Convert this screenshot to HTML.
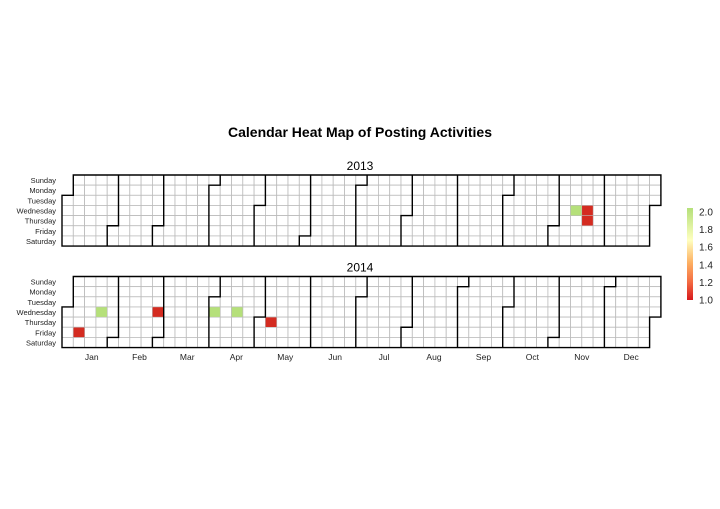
<!DOCTYPE html>
<html><head><meta charset="utf-8"><style>
body{margin:0;background:#fff;}
svg text{font-family:"Liberation Sans",sans-serif;}
</style></head><body>
<svg id="chart" width="720" height="504" viewBox="0 0 720 504" xmlns="http://www.w3.org/2000/svg">
<rect width="720" height="504" fill="#fff"/>
<text x="360" y="137" text-anchor="middle" font-size="14" font-weight="bold">Calendar Heat Map of Posting Activities</text>
<defs><linearGradient id="lg" x1="0" y1="1" x2="0" y2="0">
<stop offset="0" stop-color="#d7191c"/><stop offset="0.2" stop-color="#f46d43"/><stop offset="0.4" stop-color="#fdae61"/><stop offset="0.65" stop-color="#ffffbf"/><stop offset="1" stop-color="#b5e07a"/>
</linearGradient></defs>
<rect x="687" y="208" width="6" height="92" fill="url(#lg)"/>
<g id="legend"></g>
<g id="panels"></g>
</svg>
<script>
const years = [2013, 2014];
const activeDates = ["2013-11-13","2013-11-20","2013-11-21","2014-01-10","2014-01-22","2014-02-26","2014-04-02","2014-04-16","2014-05-08"];
const activeValues = [2,1,1,1,2,1,2,2,1];
const legendTicks = [1.0,1.2,1.4,1.6,1.8,2.0];
const dayNames = ["Sunday","Monday","Tuesday","Wednesday","Thursday","Friday","Saturday"];
const monthNames = ["Jan","Feb","Mar","Apr","May","Jun","Jul","Aug","Sep","Oct","Nov","Dec"];

const NS="http://www.w3.org/2000/svg";
const X0=62, CW=11.3, CH=10.15;
const panelTop=[175,276.5];
const vmin=1,vmax=2;
function color(v){return v>=1.5?"#b5e07a":"#d42b20";}
function mk(tag,attrs,parent){const e=document.createElementNS(NS,tag);for(const k in attrs)e.setAttribute(k,attrs[k]);parent.appendChild(e);return e;}
const panels=document.getElementById('panels');
const legend=document.getElementById('legend');
legendTicks.forEach(t=>{
  const y=300-(t-vmin)/(vmax-vmin)*88;
  const tx=mk('text',{x:699,y:y+3.5,'font-size':10,fill:'#222'},legend);
  
  
  tx.textContent=t.toFixed(1);
});
years.forEach((yr,pi)=>{
  const top=panelTop[pi];
  const g=mk('g',{},panels);
  
  
  const st=mk('text',{x:360,y:top-5,'text-anchor':'middle','font-size':12},g);
  
  
  st.textContent=yr;
  dayNames.forEach((d,i)=>{
    const t=mk('text',{x:56,y:top+i*CH+CH/2+3,'text-anchor':'end','font-size':7.5,fill:'#222'},g);
    
    
    t.textContent=d;
  });
  const jan1=new Date(Date.UTC(yr,0,1));
  const off=jan1.getUTCDay();
  const cells={};const monthCols={};
  for(let d=new Date(jan1);d.getUTCFullYear()===yr;d=new Date(d.getTime()+864e5)){
    const idx=Math.round((d-jan1)/864e5)+off;
    const col=Math.floor(idx/7),row=d.getUTCDay();
    const m=d.getUTCMonth();
    cells[col+','+row]=m;
    (monthCols[m]=monthCols[m]||[]).push(col);
    const r=mk('rect',{x:X0+col*CW,y:top+row*CH,width:CW,height:CH,fill:'#fff',stroke:'#bbb','stroke-width':0.8},g);
    
    
  }
  activeDates.forEach((ds,i)=>{
    const d=new Date(ds+"T00:00:00Z");
    if(d.getUTCFullYear()!==yr)return;
    const idx=Math.round((d-jan1)/864e5)+off;
    const col=Math.floor(idx/7),row=d.getUTCDay();
    const r=mk('rect',{x:X0+col*CW,y:top+row*CH,width:CW,height:CH,fill:color(activeValues[i]),stroke:'#bbb','stroke-width':0.5},g);
    
    
  });
  // month borders
  let p='';
  for(const k in cells){
    const [c,r]=k.split(',').map(Number);const m=cells[k];
    const x=X0+c*CW,y=top+r*CH;
    const nb=[[c+1,r,`M${x+CW},${y}V${y+CH}`],[c-1,r,`M${x},${y}V${y+CH}`],[c,r+1,`M${x},${y+CH}H${x+CW}`],[c,r-1,`M${x},${y}H${x+CW}`]];
    nb.forEach(([cc,rr,seg])=>{const o=cells[cc+','+rr];if(o===undefined||o!==m)p+=seg;});
  }
  const path=mk('path',{d:p,stroke:'#000','stroke-width':1.4,fill:'none','stroke-linecap':'square'},g);
  
  
  if(pi===years.length-1){
    monthNames.forEach((mn,m)=>{
      const cols=monthCols[m];const mean=cols.reduce((a,b)=>a+b,0)/cols.length;
      const t=mk('text',{x:X0+(mean+0.5)*CW,y:360,'text-anchor':'middle','font-size':8.5,fill:'#222'},g);
      
      
      t.textContent=mn;
    });
  }
});
</script>
</body></html>
